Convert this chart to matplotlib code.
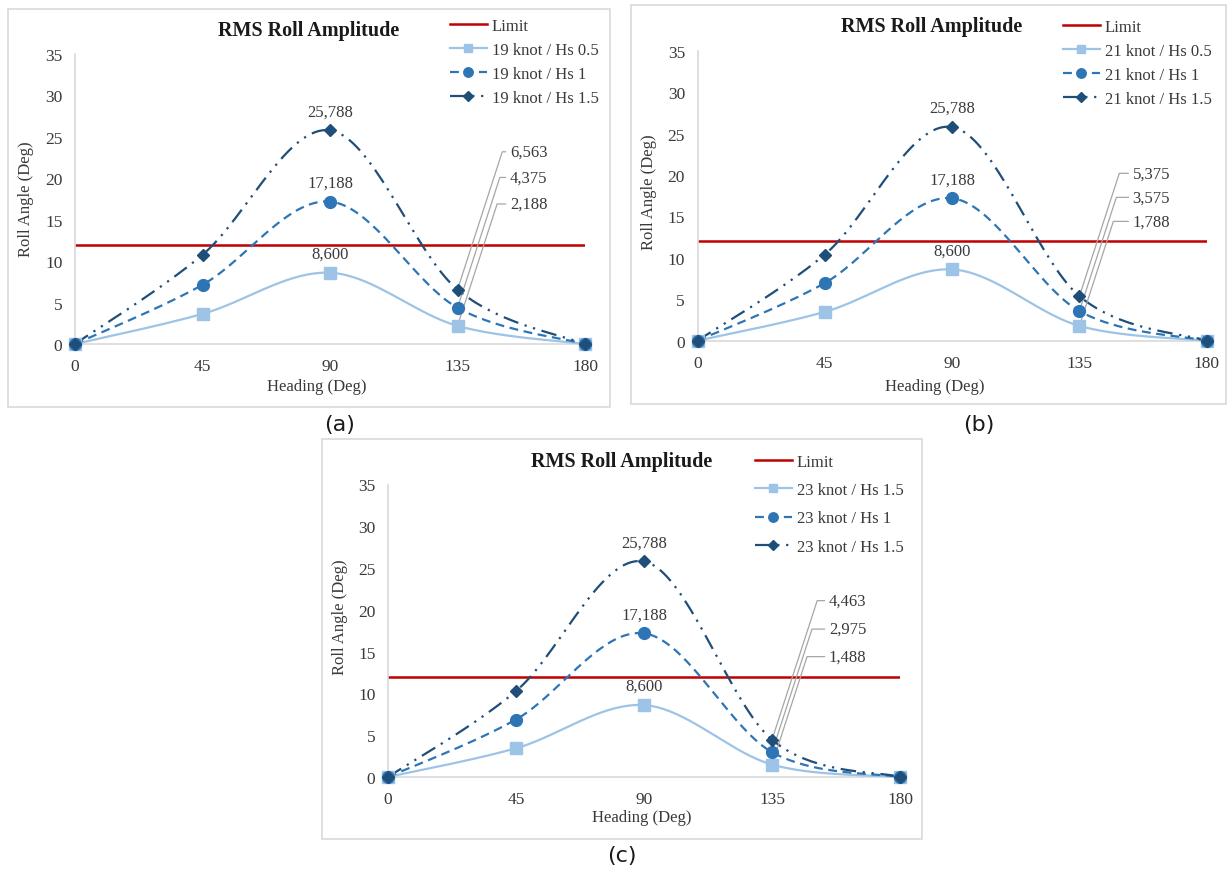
import numpy as np
import matplotlib
matplotlib.use("Agg")
import matplotlib.pyplot as plt
from matplotlib.patches import Rectangle

plt.rcParams['font.family'] = ['Liberation Serif', 'DejaVu Sans']

W, H = 1228, 870

# data
headings = [0, 45, 90, 135, 180]
limit = 12

a_hs05 = [0, 3.63, 8.6, 2.188, 0]
a_hs1 = [0, 7.14, 17.188, 4.375, 0]
a_hs15 = [0, 10.77, 25.788, 6.563, 0]
a_labels = ["19 knot / Hs 0.5", "19 knot / Hs 1", "19 knot / Hs 1.5"]

b_hs05 = [0, 3.48, 8.6, 1.788, 0]
b_hs1 = [0, 6.96, 17.188, 3.575, 0]
b_hs15 = [0, 10.4, 25.788, 5.375, 0]
b_labels = ["21 knot / Hs 0.5", "21 knot / Hs 1", "21 knot / Hs 1.5"]

c_hs05 = [0, 3.44, 8.6, 1.488, 0]
c_hs1 = [0, 6.88, 17.188, 2.975, 0]
c_hs15 = [0, 10.28, 25.788, 4.463, 0]
c_labels = ["23 knot / Hs 1.5", "23 knot / Hs 1", "23 knot / Hs 1.5"]

colors = ["#9DC3E6", "#2E75B6", "#1F4E79"]
red = "#C00000"
grey = "#D9D9D9"
txt = "#3A3A3A"


def fx(px):
    return px / W


def fy(py):
    return 1 - py / H


def smooth(x, y, n=40):
    # excel style smoothed line (bezier through the points)
    p = np.column_stack([x, y]).astype(float)
    p = np.vstack([p[0], p, p[-1]])
    out = []
    for i in range(1, len(p) - 2):
        p0, p1, p2, p3 = p[i - 1], p[i], p[i + 1], p[i + 2]
        c1 = p1 + (p2 - p0) / 6
        c2 = p2 - (p3 - p1) / 6
        t = np.linspace(0, 1, n)[:, None]
        seg = (1 - t) ** 3 * p1 + 3 * (1 - t) ** 2 * t * c1 + 3 * (1 - t) * t ** 2 * c2 + t ** 3 * p2
        out.append(seg if i == 1 else seg[1:])
    out = np.vstack(out)
    return out[:, 0], out[:, 1]


def fmt(v):
    return f"{v:.3f}".replace(".", ",")


def panel(fig, lay, series, labels, caption):
    bx0, by0, bx1, by1 = lay["box"]
    fig.patches.append(Rectangle((fx(bx0), fy(by1)), fx(bx1 - bx0), (by1 - by0) / H,
                                 transform=fig.transFigure, fill=False, ec=grey, lw=1.2))
    ax0, ay0, ax1, ay1 = lay["axes"]
    ax = fig.add_axes([fx(ax0), fy(ay0), fx(ax1 - ax0), (ay0 - ay1) / H])
    ax.set_xlim(0, 180)
    ax.set_ylim(0, 35)
    ax.set_xticks(headings)
    ax.set_yticks(range(0, 36, 5))
    for s in ["top", "right"]:
        ax.spines[s].set_visible(False)
    for s in ["left", "bottom"]:
        ax.spines[s].set_color(grey)
        ax.spines[s].set_linewidth(1.2)
    ax.tick_params(length=0, labelsize=12.5, colors=txt)
    ax.tick_params(axis="x", pad=10)
    ax.tick_params(axis="y", pad=9)
    ax.patch.set_alpha(0)

    handles = []
    lim, = ax.plot([0, 180], [limit, limit], color=red, lw=1.8, zorder=2)
    lim.set_label("Limit")
    handles.append(lim)

    styles = [
        dict(ls="-", marker="s", ms=8),
        dict(ls=(0, (4, 2.5)), marker="o", ms=8.5),
        dict(ls=(0, (7, 3, 1, 3, 1, 3)), marker="D", ms=6.2),
    ]
    for vals, col, st, lab in zip(series, colors, styles, labels):
        sx, sy = smooth(headings, vals)
        ax.plot(sx, sy, color=col, lw=1.6, ls=st["ls"], zorder=3, clip_on=False)
        ax.plot(headings, vals, ls="none", marker=st["marker"], ms=st["ms"],
                color=col, zorder=4, clip_on=False)
        h, = ax.plot([], [], color=col, lw=1.6, ls=st["ls"], marker=st["marker"],
                     ms=st["ms"] * 0.8)
        h.set_label(lab)
        handles.append(h)

    # peak value labels
    for vals in series:
        ax.annotate(fmt(vals[2]), (90, vals[2]), xytext=(0, 19), textcoords="offset pixels",
                    ha="center", va="center", fontsize=12, color=txt)

    # leader labels at 135
    lx = lay["lead_x"]
    for vals, ly in zip(series[::-1], lay["lead_y"]):
        ax.annotate(fmt(vals[3]), (135, vals[3]), xytext=(lx, ly), textcoords="data",
                    ha="left", va="center", fontsize=12, color=txt,
                    arrowprops=dict(arrowstyle="-", color="#A6A6A6", lw=0.9,
                                    shrinkA=1, shrinkB=3, relpos=(0, 0.5),
                                    connectionstyle="angle,angleA=0,angleB=72,rad=0"))

    tx, ty = lay["title"]
    fig.text(fx(tx), fy(ty), "RMS Roll Amplitude", ha="center", va="center",
             fontsize=14.5, fontweight="bold", color="#1A1A1A")
    xlx, xly = lay["xlabel"]
    fig.text(fx(xlx), fy(xly), "Heading (Deg)", ha="center", va="center",
             fontsize=12, color=txt)
    ylx, yly = lay["ylabel"]
    fig.text(fx(ylx), fy(yly), "Roll Angle (Deg)", ha="center", va="center",
             rotation=90, fontsize=12, color=txt)
    cx, cy = lay["caption"]
    fig.text(fx(cx), fy(cy), caption, ha="center", va="center", fontsize=16,
             family="DejaVu Sans", color="#1A1A1A")

    gx, gy = lay["legend"]
    ax.legend(handles=handles, loc="upper left", bbox_to_anchor=(fx(gx), fy(gy)),
              bbox_transform=fig.transFigure, frameon=False, fontsize=12,
              borderpad=0, borderaxespad=0, handlelength=2.2, handletextpad=0.3,
              labelspacing=lay["spacing"], labelcolor=txt)
    return ax


fig = plt.figure(figsize=(W / 100, H / 100), dpi=100)
fig.patch.set_facecolor("white")

lay_a = dict(box=(8, 10, 610, 408), axes=(75, 345, 585, 55), title=(309, 31),
             xlabel=(317, 387), ylabel=(26, 199), caption=(340, 425),
             legend=(450, 19), spacing=0.48, lead_x=153.5, lead_y=[23.2, 20.1, 16.9])
lay_b = dict(box=(631, 6, 1226, 405), axes=(697.5, 341.7, 1206.7, 51.7), title=(932, 27),
             xlabel=(935, 387), ylabel=(649, 192), caption=(979, 425),
             legend=(1063, 20), spacing=0.48, lead_x=153.8, lead_y=[20.2, 17.3, 14.4])
lay_c = dict(box=(322, 440, 922, 840), axes=(388, 778, 900, 485.5), title=(622, 462),
             xlabel=(642, 818), ylabel=(340, 617), caption=(622, 856),
             legend=(755, 455), spacing=0.73, lead_x=155, lead_y=[21.1, 17.7, 14.4])

panel(fig, lay_a, [a_hs05, a_hs1, a_hs15], a_labels, "(a)")
panel(fig, lay_b, [b_hs05, b_hs1, b_hs15], b_labels, "(b)")
panel(fig, lay_c, [c_hs05, c_hs1, c_hs15], c_labels, "(c)")

fig.savefig("out.png", dpi=100)
